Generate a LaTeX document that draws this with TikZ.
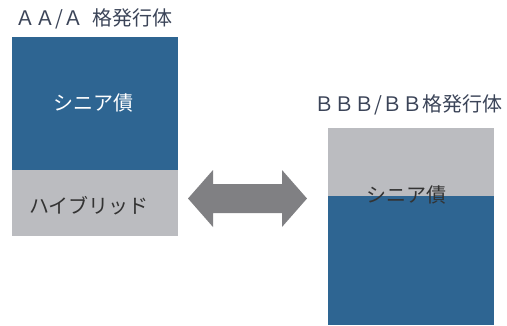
\documentclass[tikz,border=0pt]{standalone}
\usepackage{fontspec}
\setmainfont{Noto Sans CJK JP}
\definecolor{barblue}{HTML}{2E6592}
\definecolor{bargray}{HTML}{BBBCC0}
\definecolor{arrowgray}{HTML}{808083}
\definecolor{titlecol}{HTML}{3B4458}
\definecolor{labcol}{HTML}{333333}
\begin{document}
\begin{tikzpicture}[x=1pt,y=-1pt,
  title/.style={anchor=west,inner sep=0pt,font=\fontsize{20}{22}\selectfont,text=titlecol},
  lab/.style={inner sep=0pt,font=\fontsize{20}{22}\selectfont}]
\useasboundingbox (0,0) rectangle (507,325);
% left column
\fill[barblue] (12,37) rectangle (178,170);
\fill[bargray] (12,170) rectangle (178,236);
\node[title] (t1) at (15,19) {ＡＡ/Ａ\hspace{9pt}格発行体};
\node[lab,text=white] (l1) at (93,103) {シニア債};
\node[lab,text=labcol] (l2) at (89,206) {ハイブリッド};
% right column
\fill[bargray] (328,128) rectangle (494,196);
\fill[barblue] (328,196) rectangle (494,325);
\node[title] (t2) at (314,105) {ＢＢＢ/ＢＢ格発行体};
\node[lab,text=labcol] (r1) at (406,195) {シニア債};
% double arrow
\fill[arrowgray] (188,198.5) -- (213,170) -- (213,184) -- (282,184) -- (282,170)
  -- (307,198.5) -- (282,227) -- (282,213) -- (213,213) -- (213,227) -- cycle;
\end{tikzpicture}
\end{document}
